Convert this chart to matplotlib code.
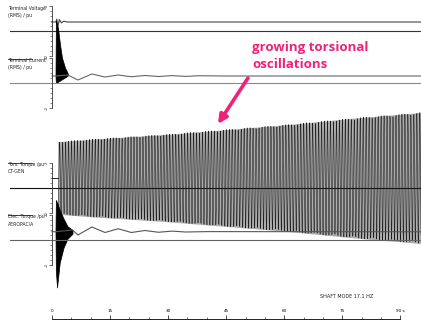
import numpy as np
import matplotlib.pyplot as plt
from matplotlib.lines import Line2D
from matplotlib.ticker import FixedLocator

# ---- values (time in s, signals in pu) ----
volt_t = [0.0, 1.0, 1.25, 1.5, 1.9, 2.4, 3.0, 4.0, 95.5]
volt_v = [0.72, 0.72, 0.95, 0.35, 0.92, 0.65, 0.78, 0.72, 0.72]

cur_t = [0.0, 0.9, 4.1, 6.7, 10.3, 13.7, 17.1, 20.5, 24.0, 27.5, 31.0, 34.5, 38.0, 45.0, 95.5]
cur_v = [0.56, 0.56, 0.64, 0.24, 0.72, 0.48, 0.64, 0.50, 0.60, 0.52, 0.59, 0.53, 0.58, 0.56, 0.56]
cur_band_t = [0.9, 1.0, 1.55, 2.1, 2.6, 3.4, 4.1]
cur_band_hi = [0.56, 5.0, 4.4, 3.0, 2.0, 1.2, 0.75]
cur_band_lo = [0.56, 0.0, 0.1, 0.2, 0.3, 0.45, 0.6]

tors_pre_t = [0.0, 1.5]
tors_pre_v = [0.8, 0.8]
tors_env_t = [1.5, 10, 20, 30, 40, 50, 60, 70, 80, 90, 95.5]
tors_env = [2.9, 3.1, 3.3, 3.5, 3.75, 4.0, 4.25, 4.55, 4.85, 5.1, 5.25]
tors_mean = 0.8
shaft_hz = 17.1

elec_t = [0.0, 0.9, 5.3, 6.7, 10.3, 13.7, 17.1, 20.5, 24.0, 27.5, 31.0, 34.5, 40.0, 95.5]
elec_v = [0.66, 0.66, 0.8, 0.4, 1.04, 0.6, 0.9, 0.6, 0.76, 0.62, 0.71, 0.64, 0.67, 0.66]
elec_band_t = [0.9, 1.0, 1.3, 2.0, 3.0, 4.0, 5.3]
elec_band_hi = [0.66, 3.2, 3.0, 2.4, 1.7, 1.1, 0.8]
elec_band_lo = [0.66, -2.5, -3.8, -1.8, -0.6, 0.1, 0.5]

panel_names = ["Terminal Voltage\n(RMS) / pu", "Terminal Current\n(RMS) / pu",
               "Tors. Torque /pu\nCT-GEN", "Elec. Torque /pu\nAEROPAC/A"]
time_ticks = [0, 15, 30, 45, 60, 75, 90]
time_labels = ["0", "15", "30", "45", "60", "75", "90 s"]

# ---- layout (figure pixels) ----
W, H = 421, 320
x0_px, px_per_s = 52, 3.87
px_per_pu = 12.5
baselines = [31, 83, 188, 240]
label_y = [12, 64, 168, 220]
base_col = ["#333333", "#888888", "#111111", "#666666"]
pink = "#ee2277"
sample_dt = 1 / 15.8   # plot step of the stored simulation output

fig = plt.figure(figsize=(W / 100, H / 100), dpi=100)
xlim = (-x0_px / px_per_s, (W - x0_px) / px_per_s)

axes = []
for i, b in enumerate(baselines):
    ax = fig.add_axes([0, 0, 1, 1])
    ax.patch.set_alpha(0)
    ax.set_xlim(xlim)
    ax.set_ylim(-(H - b) / px_per_pu, b / px_per_pu)
    for s in ["top", "right", "bottom"]:
        ax.spines[s].set_visible(False)
    ax.spines["left"].set_position(("data", 0))
    ax.spines["left"].set_bounds(-2, 2)
    ax.spines["left"].set_linewidth(0.6)
    ax.spines["left"].set_color("#333333")
    ax.set_yticks([-2, 2])
    ax.set_yticklabels(["-2", "2"], rotation=90, fontsize=3, va="center")
    ax.yaxis.set_minor_locator(FixedLocator(np.arange(-2, 2.01, 0.4)))
    ax.tick_params(axis="y", which="major", length=2, width=0.5, pad=0.5, colors="#333333")
    ax.tick_params(axis="y", which="minor", length=1.2, width=0.4, colors="#333333")
    ax.set_xticks([])
    ax.axhline(0, xmin=10 / W, xmax=1, color=base_col[i], lw=0.8)
    fig.text(8 / W, 1 - label_y[i] / H, panel_names[i], fontsize=3.3,
             va="center", ha="left", linespacing=1.5, color="#222222")
    if i > 0:
        fig.add_artist(Line2D([8 / W, 32 / W], [1 - (label_y[i] - 5) / H] * 2,
                              color="#222222", lw=0.6))
    axes.append(ax)

ax_v, ax_c, ax_t, ax_e = axes

# terminal voltage
ax_v.plot(volt_t, volt_v, color="#444444", lw=0.8)

# terminal current
ax_c.fill_between(cur_band_t, cur_band_lo, cur_band_hi, color="black", lw=0.5)
ax_c.plot(cur_t, cur_v, color="#666666", lw=0.8)

# torsional torque: growing shaft oscillation
t = np.arange(tors_env_t[0], tors_env_t[-1], sample_dt)
env = np.interp(t, tors_env_t, tors_env)
ax_t.plot(tors_pre_t, tors_pre_v, color="black", lw=0.6)
ax_t.fill_between(t, tors_mean - env, tors_mean + env, color="#acacac", lw=0)
ax_t.plot(t, tors_mean + env * np.sin(2 * np.pi * shaft_hz * t), color="#1e1e1e", lw=0.4)

# electrical torque
ax_e.fill_between(elec_band_t, elec_band_lo, elec_band_hi, color="black", lw=0.5)
ax_e.plot(elec_t, elec_v, color="#555555", lw=0.8)

# time axis at the bottom
ax_x = fig.add_axes([0, 0, 1, 1])
ax_x.patch.set_alpha(0)
ax_x.set_xlim(xlim)
ax_x.set_ylim(0, H)
for s in ["top", "right", "left"]:
    ax_x.spines[s].set_visible(False)
ax_x.spines["bottom"].set_position(("data", 1.5))
ax_x.spines["bottom"].set_bounds(0, 90)
ax_x.spines["bottom"].set_linewidth(0.6)
ax_x.set_yticks([])
ax_x.set_xticks(time_ticks)
ax_x.set_xticklabels(time_labels, fontsize=3)
ax_x.xaxis.set_minor_locator(FixedLocator(np.arange(0, 91, 5)))
ax_x.tick_params(axis="x", which="major", direction="in", length=3, width=0.5, pad=-7)
ax_x.tick_params(axis="x", which="minor", direction="in", length=1.5, width=0.4)

fig.text(320 / W, 1 - 297 / H, "SHAFT MODE 17.1 HZ", fontsize=3.5, va="center", color="#222222")

fig.text(252 / W, 1 - 56 / H, "growing torsional\noscillations", fontsize=9.5,
         family="Open Sans", weight="bold", color=pink, va="center", linespacing=1.3)
ax_x.annotate("", xy=(218, H - 124), xycoords="figure pixels",
              xytext=(248, H - 78), textcoords="figure pixels",
              arrowprops=dict(arrowstyle="-|>", lw=2.6, color=pink,
                              mutation_scale=13, shrinkA=0, shrinkB=0))

fig.savefig("out.png", dpi=100)
